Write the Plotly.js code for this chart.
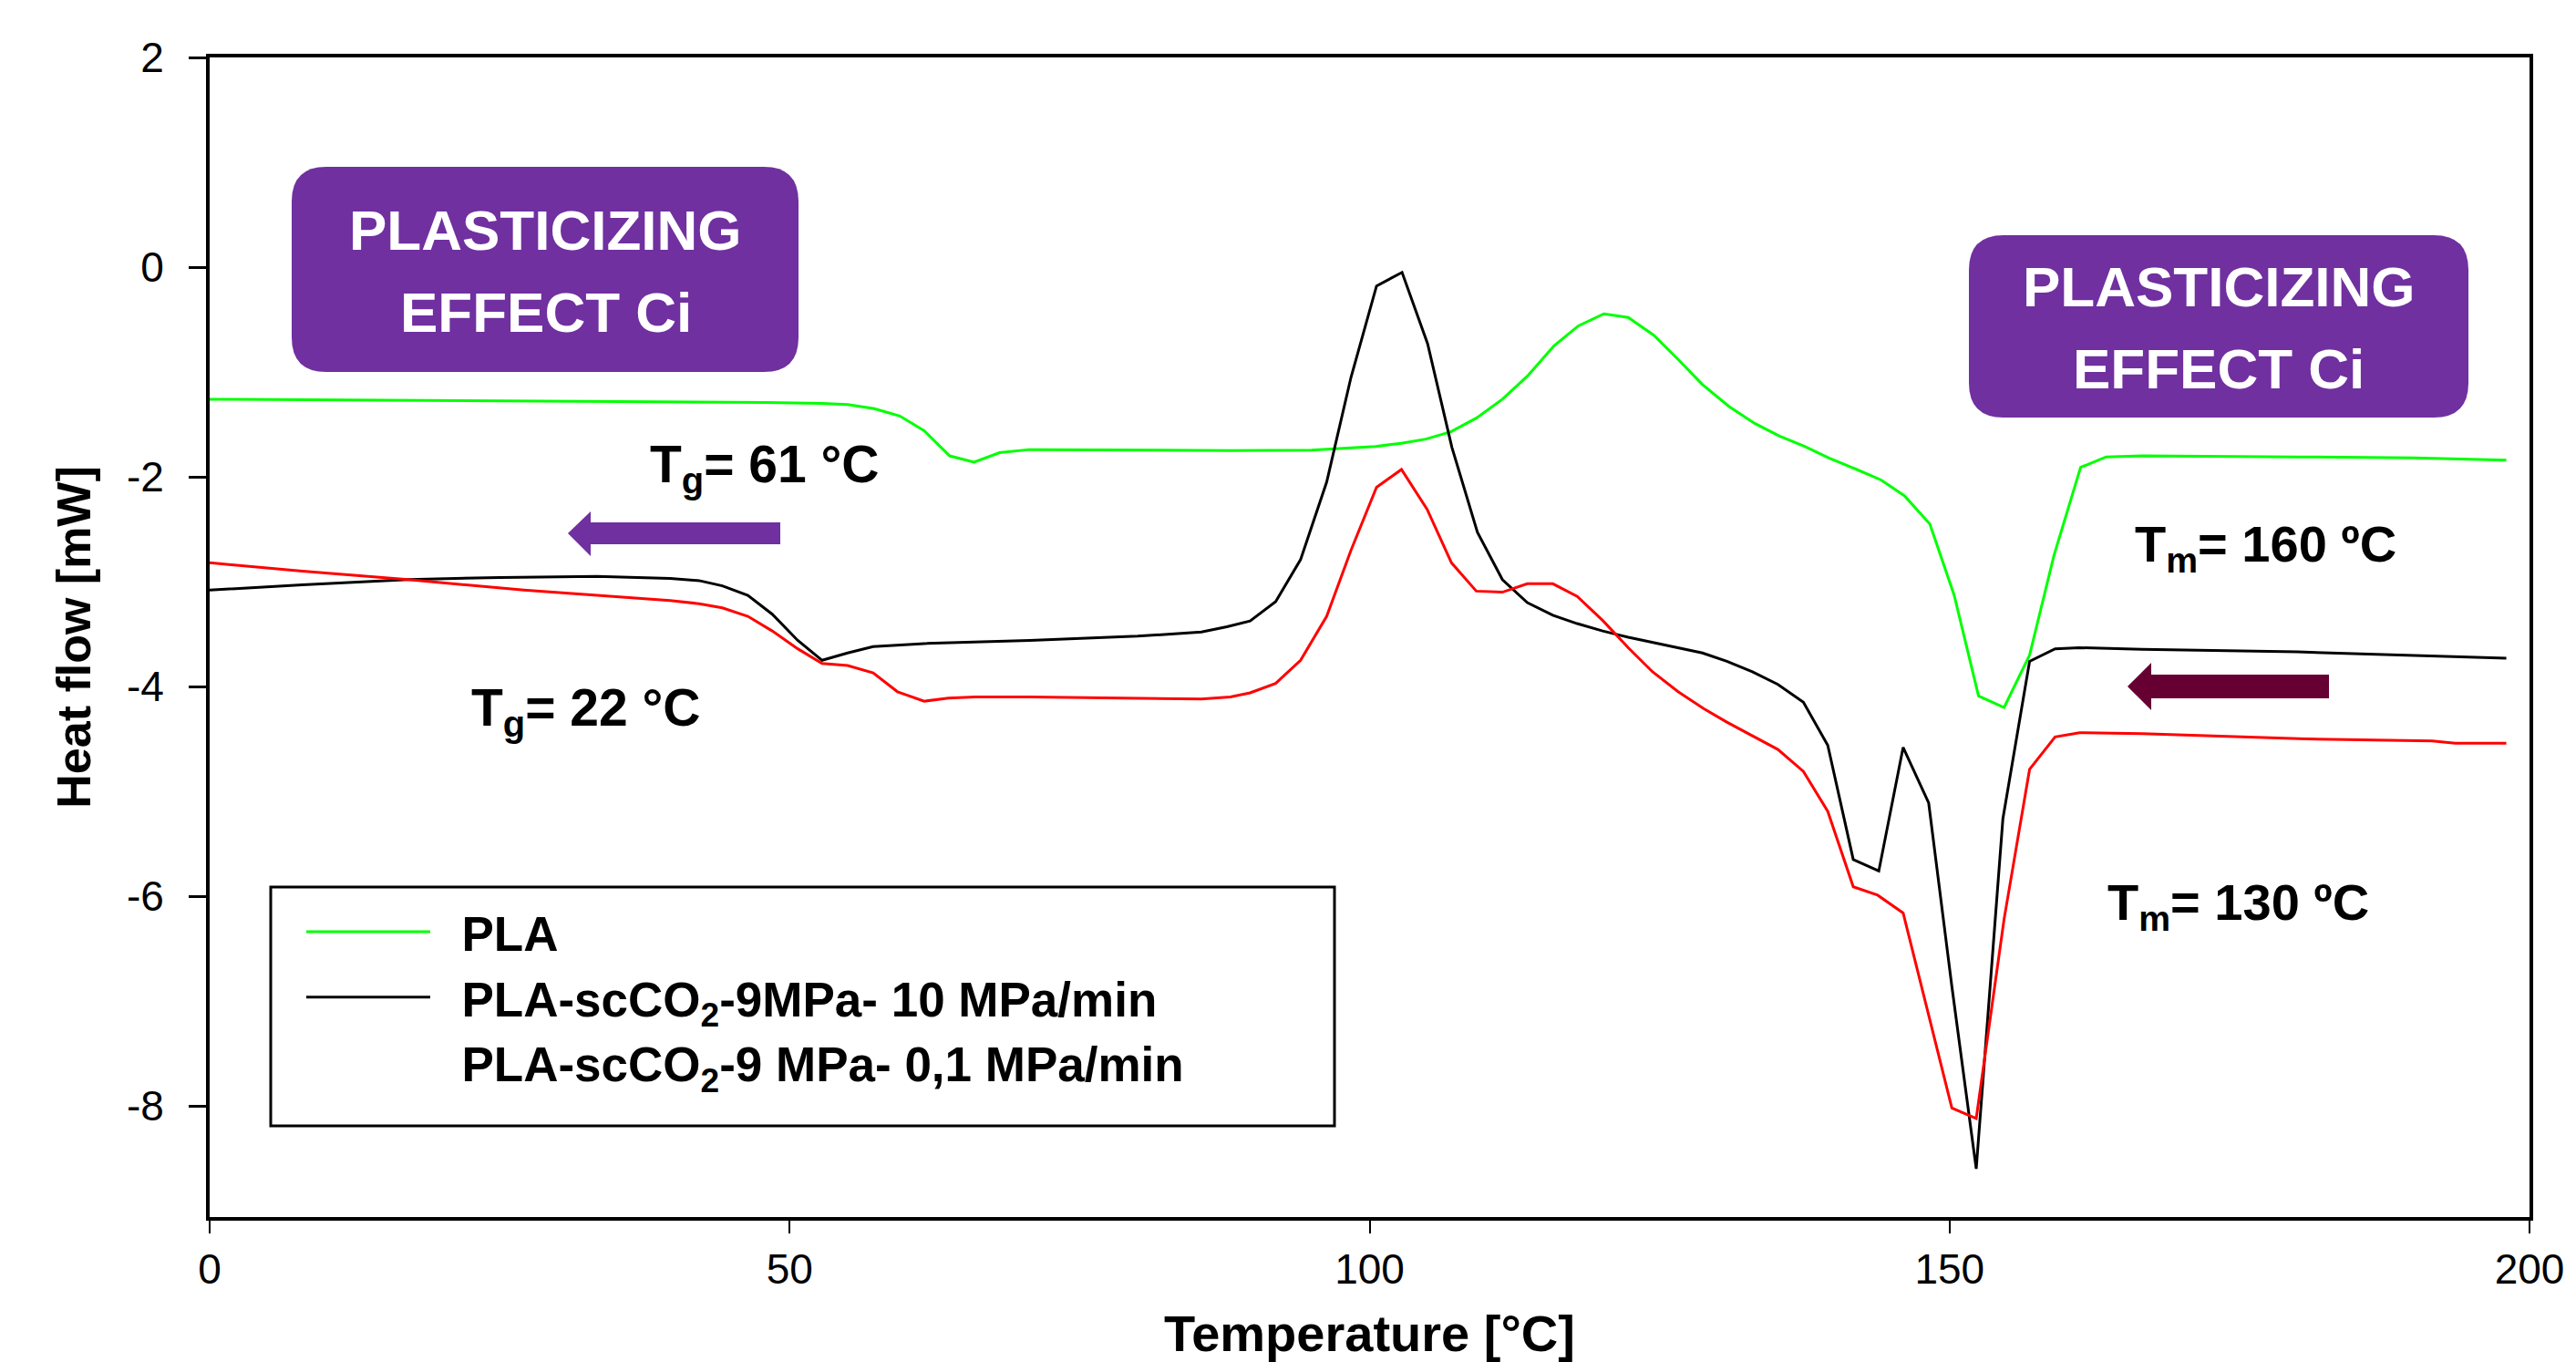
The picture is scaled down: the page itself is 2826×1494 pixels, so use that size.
<!DOCTYPE html>
<html>
<head>
<meta charset="utf-8">
<script src="https://cdn.plot.ly/plotly-3.0.1.min.js"></script>
<style>html,body{margin:0;padding:0;background:#fff;}#chart{width:2826px;height:1494px;}</style>
</head>
<body>
<div id="chart"></div>
<script>
// ---- data ----
const plaX = [0,10,20,30,40,48,52.8,55.0,57.3,59.5,61.6,63.8,65.9,68.1,70.7,80,88,95,100.5,102.75,104.85,107.0,109.2,111.45,113.6,115.9,118.0,120.2,122.3,124.5,126.6,128.7,131.0,133.2,135.3,137.5,139.6,142.0,144.1,146.1,148.3,150.4,152.5,154.7,156.9,159.0,161.3,163.5,166.6,180,190,198];
const plaY = [-1.26,-1.265,-1.27,-1.275,-1.28,-1.29,-1.30,-1.31,-1.35,-1.42,-1.56,-1.80,-1.86,-1.77,-1.74,-1.745,-1.75,-1.745,-1.71,-1.68,-1.64,-1.57,-1.44,-1.26,-1.04,-0.75,-0.56,-0.445,-0.48,-0.65,-0.88,-1.12,-1.33,-1.49,-1.61,-1.71,-1.82,-1.93,-2.03,-2.18,-2.45,-3.13,-4.09,-4.20,-3.70,-2.75,-1.91,-1.81,-1.80,-1.81,-1.82,-1.84];

const fastX = [0,8,17.1,25,33.4,37.4,39.7,42.2,44.2,46.4,48.5,50.7,52.8,55.0,57.2,61.6,70.7,80,85.5,87.7,89.7,91.9,94.05,96.3,98.4,100.6,102.8,105.0,107.1,109.3,111.45,113.6,115.8,117.9,120.1,122.3,124.4,126.6,128.7,130.8,133.0,135.2,137.4,139.5,141.7,143.9,146.0,148.2,150.2,152.3,154.6,156.9,159.1,161.2,166.6,180,190,198];
const fastY = [-3.08,-3.03,-2.98,-2.96,-2.95,-2.96,-2.97,-2.99,-3.04,-3.13,-3.31,-3.56,-3.75,-3.68,-3.62,-3.59,-3.56,-3.52,-3.48,-3.43,-3.375,-3.19,-2.79,-2.05,-1.05,-0.18,-0.05,-0.73,-1.72,-2.53,-2.98,-3.20,-3.32,-3.40,-3.47,-3.53,-3.58,-3.63,-3.68,-3.76,-3.86,-3.98,-4.15,-4.56,-5.65,-5.76,-4.58,-5.11,-6.86,-8.60,-5.26,-3.76,-3.64,-3.63,-3.645,-3.67,-3.70,-3.73];

const slowX = [0,8,17.1,27.1,33.4,39.7,42.2,44.2,46.4,48.5,50.7,52.8,55.0,57.2,59.3,61.6,63.7,66.0,70.7,80,85.5,88.0,89.7,91.9,94.05,96.3,98.4,100.6,102.75,104.96,107.06,109.2,111.45,113.6,115.8,117.9,120.1,122.3,124.4,126.6,128.8,130.8,133.0,135.2,137.4,139.5,141.7,143.8,146.0,148.0,150.2,152.3,154.7,156.9,159.1,161.2,166.6,180.7,191.6,193.6,198];
const slowY = [-2.82,-2.90,-2.98,-3.08,-3.13,-3.18,-3.21,-3.25,-3.33,-3.47,-3.64,-3.78,-3.80,-3.87,-4.05,-4.14,-4.11,-4.10,-4.10,-4.115,-4.12,-4.10,-4.06,-3.97,-3.75,-3.33,-2.70,-2.10,-1.93,-2.31,-2.82,-3.09,-3.10,-3.02,-3.02,-3.14,-3.37,-3.63,-3.86,-4.05,-4.21,-4.34,-4.47,-4.60,-4.81,-5.19,-5.91,-5.99,-6.16,-7.05,-8.02,-8.12,-6.22,-4.79,-4.48,-4.44,-4.45,-4.50,-4.52,-4.54,-4.54];

const seriesNames = [
  '\u00a0\u00a0<b>PLA</b>',
  '\u00a0\u00a0<b>PLA-scCO<sub>2</sub>-9MPa- 10 MPa/min</b>',
  '\u00a0\u00a0<b>PLA-scCO<sub>2</sub>-9 MPa- 0,1 MPa/min</b>'
];
const xTicks = [0,50,100,150,200];
const yTicks = [-8,-6,-4,-2,0,2];

// ---- layout helpers (pixel -> paper) ----
const W = 2826, H = 1494;
const PL = 230, PR = 2775, PT = 63, PB = 1335;
const px = x => (x - PL) / (PR - PL);
const py = y => (PB - y) / (PB - PT);
const pt = (x, y) => px(x).toFixed(5) + ',' + py(y).toFixed(5);

function rrect(x0, y0, x1, y1, r) {
  return 'M' + pt(x0 + r, y0) + ' L' + pt(x1 - r, y0) + ' Q' + pt(x1, y0) + ' ' + pt(x1, y0 + r) +
    ' L' + pt(x1, y1 - r) + ' Q' + pt(x1, y1) + ' ' + pt(x1 - r, y1) +
    ' L' + pt(x0 + r, y1) + ' Q' + pt(x0, y1) + ' ' + pt(x0, y1 - r) +
    ' L' + pt(x0, y0 + r) + ' Q' + pt(x0, y0) + ' ' + pt(x0 + r, y0) + ' Z';
}
function arrowPath(tipX, tipY, headX, headTop, headBot, shaftTop, shaftBot, tailX) {
  return 'M' + pt(tipX, tipY) + ' L' + pt(headX, headTop) + ' L' + pt(headX, shaftTop) +
    ' L' + pt(tailX, shaftTop) + ' L' + pt(tailX, shaftBot) + ' L' + pt(headX, shaftBot) +
    ' L' + pt(headX, headBot) + ' Z';
}

const PURPLE = '#7030A0';
const MAROON = '#660033';
const SANS = 'Liberation Sans, Arial, sans-serif';

const traces = [
  {x: plaX, y: plaY, type: 'scatter', mode: 'lines', name: seriesNames[0],
   line: {color: '#00FF00', width: 3}},
  {x: fastX, y: fastY, type: 'scatter', mode: 'lines', name: seriesNames[1],
   line: {color: '#000000', width: 3}},
  {x: slowX, y: slowY, type: 'scatter', mode: 'lines', name: seriesNames[2],
   line: {color: '#FF0000', width: 3}, showlegend: false},
  {x: [null], y: [null], type: 'scatter', mode: 'lines', name: seriesNames[2],
   line: {color: 'rgba(0,0,0,0)', width: 3}, hoverinfo: 'skip'}
];

const annFont = (size, color) => ({family: SANS, size: size, color: color, weight: 'bold'});

const layout = {
  width: W, height: H,
  margin: {l: PL, r: W - PR, t: PT, b: H - PB, pad: 0},
  paper_bgcolor: '#ffffff', plot_bgcolor: '#ffffff',
  font: {family: SANS, color: '#000'},
  showlegend: true,
  legend: {
    x: px(331), y: py(981), xanchor: 'left', yanchor: 'top',
    bgcolor: 'rgba(0,0,0,0)', borderwidth: 0,
    font: {family: SANS, size: 53, color: '#000'},
    itemwidth: 136, tracegroupgap: 0
  },
  xaxis: {
    range: [0, 200], tickvals: xTicks, ticktext: xTicks.map(String),
    ticks: 'outside', ticklen: 14, tickwidth: 2, tickcolor: '#000',
    showline: true, linewidth: 4, linecolor: '#000', mirror: true,
    showgrid: false, zeroline: false,
    tickfont: {family: SANS, size: 46, color: '#000'},
    ticklabelstandoff: 0,
    title: {text: '<b>Temperature [°C]</b>', font: {family: SANS, size: 56, color: '#000'}, standoff: 36},
    automargin: false
  },
  yaxis: {
    range: [-9.06, 2], tickvals: yTicks, ticktext: yTicks.map(String),
    ticks: 'outside', ticklen: 19, tickwidth: 3, tickcolor: '#000',
    showline: true, linewidth: 4, linecolor: '#000', mirror: true,
    showgrid: false, zeroline: false,
    tickfont: {family: SANS, size: 46, color: '#000'},
    ticklabelstandoff: 18,
    title: {text: '<b>Heat flow [mW]</b>', font: {family: SANS, size: 52, color: '#000'}, standoff: 24},
    automargin: false
  },
  shapes: [
    {type: 'path', xref: 'paper', yref: 'paper', path: rrect(320, 183, 876, 408, 38),
     fillcolor: PURPLE, line: {width: 0}},
    {type: 'path', xref: 'paper', yref: 'paper', path: rrect(2160, 258, 2708, 458, 38),
     fillcolor: PURPLE, line: {width: 0}},
    {type: 'path', xref: 'paper', yref: 'paper', path: arrowPath(623, 585, 648, 561, 610, 573, 597, 856),
     fillcolor: PURPLE, line: {width: 0}},
    {type: 'path', xref: 'paper', yref: 'paper', path: arrowPath(2334, 753, 2360, 727, 779, 740, 766, 2555),
     fillcolor: MAROON, line: {width: 0}},
    {type: 'rect', xref: 'paper', yref: 'paper', x0: px(297), x1: px(1464), y0: py(1235), y1: py(973),
     fillcolor: '#ffffff', line: {color: '#000', width: 3}, layer: 'above'}
  ],
  annotations: [
    {xref: 'paper', yref: 'paper', x: px(598), y: py(252), text: 'PLASTICIZING', showarrow: false,
     xanchor: 'center', yanchor: 'middle', font: annFont(62, '#fff')},
    {xref: 'paper', yref: 'paper', x: px(599), y: py(342), text: 'EFFECT Ci', showarrow: false,
     xanchor: 'center', yanchor: 'middle', font: annFont(62, '#fff')},
    {xref: 'paper', yref: 'paper', x: px(2434), y: py(315), text: 'PLASTICIZING', showarrow: false,
     xanchor: 'center', yanchor: 'middle', font: annFont(62, '#fff')},
    {xref: 'paper', yref: 'paper', x: px(2434), y: py(404), text: 'EFFECT Ci', showarrow: false,
     xanchor: 'center', yanchor: 'middle', font: annFont(62, '#fff')},
    {xref: 'paper', yref: 'paper', x: px(711), y: py(513), text: 'T<sub>g</sub>= 61 °C', showarrow: false,
     xanchor: 'left', yanchor: 'middle', font: annFont(57, '#000')},
    {xref: 'paper', yref: 'paper', x: px(515), y: py(780), text: 'T<sub>g</sub>= 22 °C', showarrow: false,
     xanchor: 'left', yanchor: 'middle', font: annFont(57, '#000')},
    {xref: 'paper', yref: 'paper', x: px(2340), y: py(600), text: 'T<sub>m</sub>= 160 ºC', showarrow: false,
     xanchor: 'left', yanchor: 'middle', font: annFont(56, '#000')},
    {xref: 'paper', yref: 'paper', x: px(2310), y: py(993), text: 'T<sub>m</sub>= 130 ºC', showarrow: false,
     xanchor: 'left', yanchor: 'middle', font: annFont(56, '#000')}
  ]
};

Plotly.newPlot('chart', traces, layout, {displayModeBar: false, staticPlot: true});
</script>
</body>
</html>
